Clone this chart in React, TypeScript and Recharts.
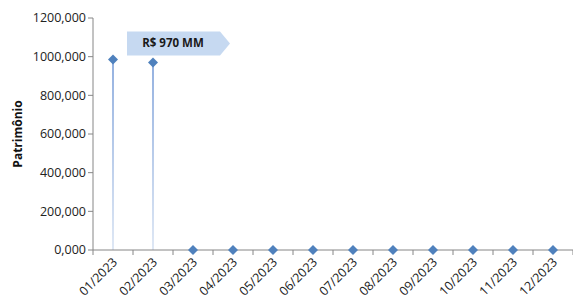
import { Bar, ComposedChart, Line, XAxis, YAxis } from "recharts";

const months = ["01/2023", "02/2023", "03/2023", "04/2023", "05/2023", "06/2023", "07/2023", "08/2023", "09/2023", "10/2023", "11/2023", "12/2023"];
const patrimonio = [985, 970, 0, 0, 0, 0, 0, 0, 0, 0, 0, 0];
const yTicks = [0, 200, 400, 600, 800, 1000, 1200];
const calloutText = "R$ 970 MM";
const calloutIndex = 1;

const data = months.map((m, i) => ({ month: m, value: patrimonio[i] }));

const FONT = "'Open Sans', 'Noto Sans', sans-serif";
const AXIS = "#868686";

function Diamond(props: any) {
  const { cx, cy } = props;
  if (cx == null || cy == null) return null;
  const r = 5;
  return <path d={`M${cx},${cy - r}L${cx + r},${cy}L${cx},${cy + r}L${cx - r},${cy}Z`} fill="#4f81bd" />;
}

function MonthTick(props: any) {
  const { x, y, payload, index } = props;
  const half = 20;
  return (
    <g>
      <line x1={x - half} y1={y - 8} x2={x - half} y2={y - 3} stroke={AXIS} />
      {index === months.length - 1 ? <line x1={x + half} y1={y - 8} x2={x + half} y2={y - 3} stroke={AXIS} /> : null}
      <text x={x + 5} y={y + 5} textAnchor="end" transform={`rotate(-45 ${x + 5} ${y + 5})`} fontSize={12.5} fontFamily={FONT} fill="#222">
        {payload.value}
      </text>
    </g>
  );
}

function Callout(props: any) {
  const { x, y, width, index } = props;
  if (index !== calloutIndex) return null;
  const cx = x + width / 2;
  const cy = y;
  const l = cx - 26, r = cx + 67, tip = cx + 77, t = cy - 31, b = cy - 7;
  return (
    <g>
      <path d={`M${l},${t}L${r},${t}L${tip},${(t + b) / 2}L${r},${b}L${l},${b}Z`} fill="#c6d9f1" />
      <text x={cx + 20} y={cy - 15} textAnchor="middle" fontSize={11.5} fontWeight="bold" fontFamily={FONT} fill="#1a1a1a">
        {calloutText}
      </text>
    </g>
  );
}

export default function App() {
  return (
    <div style={{ position: "absolute", left: 0, top: 0, width: 573, height: 300, background: "#fff" }}>
      <ComposedChart width={573} height={300} data={data} margin={{ top: 18, right: 0, bottom: 0, left: 0 }}>
        <defs>
          <linearGradient id="barFill" x1="0" y1="0" x2="0" y2="1">
            <stop offset="0%" stopColor="#94b1e0" />
            <stop offset="100%" stopColor="#dfe8f5" />
          </linearGradient>
        </defs>
        <XAxis
          dataKey="month"
          height={50}
          interval={0}
          tickLine={false}
          axisLine={{ stroke: AXIS }}
          tick={<MonthTick />}
        />
        <YAxis
          width={93}
          domain={[0, 1200]}
          ticks={yTicks}
          interval={0}
          tickFormatter={(v: number) => v.toFixed(3).replace(".", ",")}
          tick={{ fontSize: 12.5, fontFamily: FONT, fill: "#222" }}
          tickLine={{ stroke: AXIS }}
          tickSize={5}
          axisLine={{ stroke: AXIS }}
          label={{ value: "Patrimônio", angle: -90, position: "insideLeft", offset: 18, style: { fontSize: 12, fontWeight: "bold", fontFamily: FONT, fill: "#111", textAnchor: "middle" } }}
        />
        <Bar dataKey="value" barSize={2} fill="url(#barFill)" isAnimationActive={false} label={<Callout />} />
        <Line dataKey="value" stroke="none" dot={<Diamond />} activeDot={false} isAnimationActive={false} />
      </ComposedChart>
    </div>
  );
}
